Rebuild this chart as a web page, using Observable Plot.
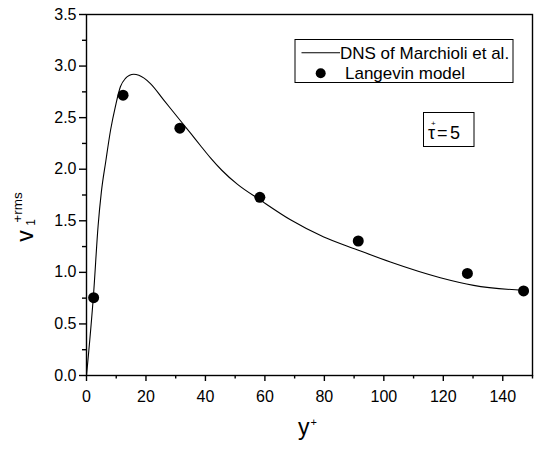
<!DOCTYPE html>
<html>
<head>
<meta charset="utf-8">
<script src="https://cdn.jsdelivr.net/npm/d3@7"></script>
<script src="https://cdn.jsdelivr.net/npm/@observablehq/plot@0.6"></script>
<style>
  html, body { margin: 0; padding: 0; background: #fff; }
  #chart svg { display: block; }
</style>
</head>
<body>
<div id="chart"></div>
<script>
// DNS profile of the particle streamwise rms velocity (Marchioli et al.)
const dnsX = [0, 2.4, 3.9, 5.0, 6.5, 8.1, 9.8, 11.4, 13.1, 14.5, 15.9, 17.6, 21.5, 26.0, 31.6, 35.0, 38.3, 41.7, 45.5, 50.7, 58.5, 68.6, 79.8, 91.0, 102.2, 119.0, 130.2, 147.0];
const dnsY = [0, 0.80, 1.45, 1.78, 2.08, 2.38, 2.62, 2.80, 2.88, 2.91, 2.92, 2.91, 2.83, 2.67, 2.47, 2.35, 2.23, 2.11, 1.99, 1.855, 1.70, 1.51, 1.343, 1.22, 1.10, 0.948, 0.874, 0.825];

// Langevin model predictions
const modelX = [2.4, 12.3, 31.4, 58.3, 91.4, 128.1, 147.0];
const modelY = [0.754, 2.718, 2.398, 1.727, 1.304, 0.990, 0.820];

const seriesNames = ["DNS of Marchioli et al.", "Langevin model"];

// Axis ticks
const xMajor = [0, 20, 40, 60, 80, 100, 120, 140];
const xMinor = [10, 30, 50, 70, 90, 110, 130, 150];
const yMajor = [0, 0.5, 1.0, 1.5, 2.0, 2.5, 3.0, 3.5];
const yMinor = [0.25, 0.75, 1.25, 1.75, 2.25, 2.75, 3.25];

const dns = dnsX.map((x, i) => ({x, y: dnsY[i]}));
const model = modelX.map((x, i) => ({x, y: modelY[i]}));

const font = "'Liberation Sans', Arial, Helvetica, sans-serif";

const chart = Plot.plot({
  width: 537,
  height: 450,
  marginLeft: 86,
  marginRight: 5,
  marginTop: 14,
  marginBottom: 75,
  x: {domain: [0, 150]},
  y: {domain: [0, 3.5]},
  style: {fontFamily: font, fontSize: "16px", color: "#000", background: "#fff"},
  marks: [
    Plot.axisX({ticks: xMajor, tickSize: 6, tickPadding: 9, strokeWidth: 1.4, tickFormat: d3.format("d"), label: null}),
    Plot.axisX({ticks: xMinor, tickSize: 3.5, strokeWidth: 1.4, tickFormat: () => "", label: null}),
    Plot.axisY({ticks: yMajor, tickSize: 7, tickPadding: 3, strokeWidth: 1.4, tickFormat: d3.format(".1f"), label: null}),
    Plot.axisY({ticks: yMinor, tickSize: 4, strokeWidth: 1.4, tickFormat: () => "", label: null}),
    Plot.line(dns, {x: "x", y: "y", stroke: "#000", strokeWidth: 1.1, curve: "monotone-x"}),
    Plot.dot(model, {x: "x", y: "y", r: 5.5, fill: "#000", stroke: "none"}),
    Plot.frame({stroke: "#000", strokeWidth: 1.4})
  ]
});

document.getElementById("chart").appendChild(chart);

// Axis titles, legend and annotation drawn on top of the plot
const svg = d3.select(chart);
const g = svg.append("g")
  .attr("font-family", font)
  .attr("fill", "#000")
  .attr("text-anchor", "start");

// x title: y+
const xt = g.append("text").attr("x", 298).attr("y", 435).attr("font-size", 23);
xt.append("tspan").text("y");
xt.append("tspan").attr("font-size", 11).attr("dy", -9).attr("dx", 1).text("+");

// y title: v1 with +rms superscript, rotated
const yt = g.append("text").attr("transform", "translate(33.3,241.7) rotate(-90)").attr("font-size", 23);
yt.append("tspan").attr("x", 0).attr("y", 0).text("v");
yt.append("tspan").attr("x", 16).attr("y", 2).attr("font-size", 12).text("1");
yt.append("tspan").attr("x", 19).attr("y", -11).attr("font-size", 13.5).text("+rms");

// legend
const lg = g.append("g");
lg.append("rect").attr("x", 295).attr("y", 39.5).attr("width", 218).attr("height", 43)
  .attr("fill", "#fff").attr("stroke", "#000").attr("stroke-width", 1);
lg.append("line").attr("x1", 301.5).attr("x2", 340).attr("y1", 52.7).attr("y2", 52.7)
  .attr("stroke", "#000").attr("stroke-width", 1.1);
lg.append("text").attr("x", 340).attr("y", 58.5).attr("font-size", 17).text(seriesNames[0]);
lg.append("circle").attr("cx", 320.7).attr("cy", 73.3).attr("r", 5);
lg.append("text").attr("x", 345).attr("y", 78.5).attr("font-size", 17).text(seriesNames[1]);

// Stokes number annotation
const tb = g.append("g");
tb.append("rect").attr("x", 423.5).attr("y", 112.5).attr("width", 50.5).attr("height", 34)
  .attr("fill", "#fff").attr("stroke", "#000").attr("stroke-width", 1);
tb.append("text").attr("x", 428).attr("y", 138.5).attr("font-size", 18).text("τ");
tb.append("text").attr("x", 431).attr("y", 126).attr("font-size", 8).text("+");
tb.append("text").attr("x", 437).attr("y", 138.5).attr("font-size", 18).attr("letter-spacing", 2.5).text("=5");
</script>
</body>
</html>
